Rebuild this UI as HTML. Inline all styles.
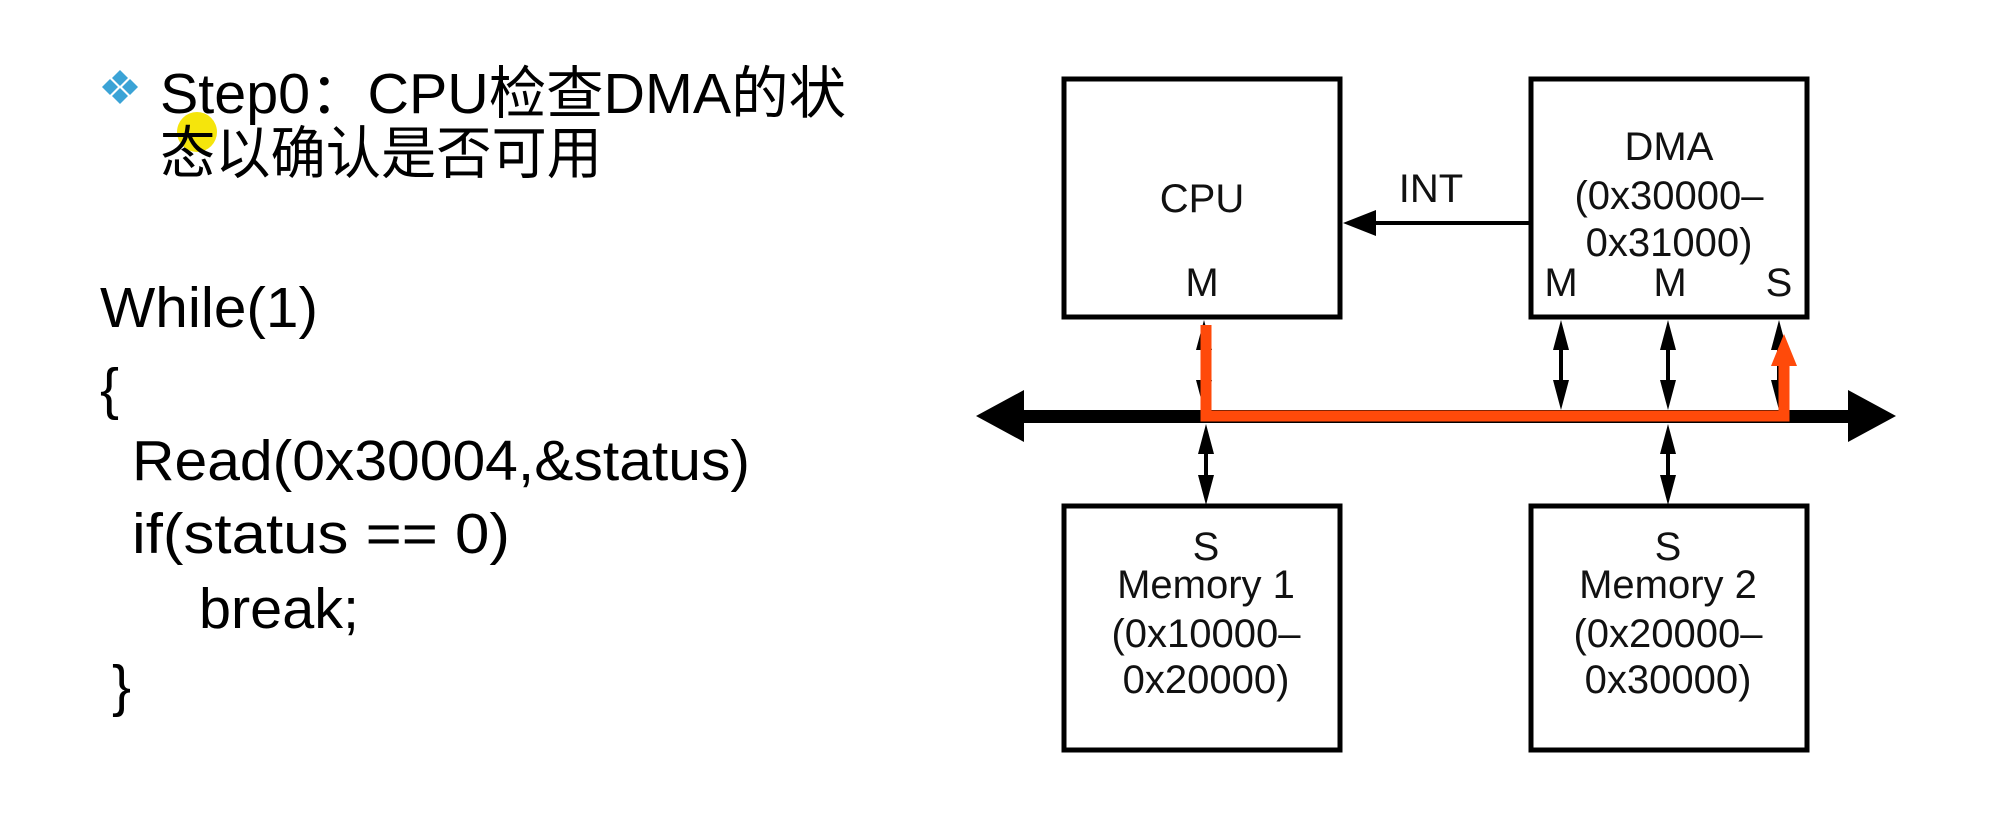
<!DOCTYPE html>
<html><head><meta charset="utf-8"><style>
html,body{margin:0;padding:0;background:#fff;}
svg{display:block;}
</style></head><body>
<svg width="1999" height="818" viewBox="0 0 1999 818" xmlns="http://www.w3.org/2000/svg">
<!-- bullet -->
<g fill="#3ba3d6">
<polygon points="120,70 128,78 120,86 112,78"/>
<polygon points="120,88 128,96 120,104 112,96"/>
<polygon points="110,79 118,87 110,95 102,87"/>
<polygon points="130,79 138,87 130,95 122,87"/>
</g>
<circle cx="197" cy="132" r="20" fill="#f5e50c"/>
<g font-family="'Liberation Sans','Noto Sans CJK SC',sans-serif" font-size="57" fill="#000">
<text x="160" y="113" textLength="686" lengthAdjust="spacingAndGlyphs">Step0：CPU检查DMA的状</text>
<text x="160" y="173" textLength="442" lengthAdjust="spacingAndGlyphs">态以确认是否可用</text>
<text x="100" y="327" textLength="218" lengthAdjust="spacingAndGlyphs">While(1)</text>
<text x="100" y="408">{</text>
<text x="132" y="480" textLength="618" lengthAdjust="spacingAndGlyphs">Read(0x30004,&amp;status)</text>
<text x="132" y="553" textLength="378" lengthAdjust="spacingAndGlyphs">if(status == 0)</text>
<text x="199" y="628" textLength="160" lengthAdjust="spacingAndGlyphs">break;</text>
<text x="112" y="705">}</text>
</g>
<!-- boxes -->
<g fill="none" stroke="#000" stroke-width="5">
<rect x="1064" y="79" width="276" height="238"/>
<rect x="1531" y="79" width="276" height="238"/>
<rect x="1064" y="506" width="276" height="244"/>
<rect x="1531" y="506" width="276" height="244"/>
</g>
<!-- bus -->
<rect x="1020" y="410" width="832" height="13" fill="#000"/>
<polygon points="976,416 1024,390 1024,442" fill="#000"/>
<polygon points="1896,416 1848,390 1848,442" fill="#000"/>
<!-- INT arrow -->
<line x1="1531" y1="223" x2="1370" y2="223" stroke="#000" stroke-width="4"/>
<polygon points="1343,223 1376,210 1376,236" fill="#000"/>
<!-- double arrows -->
<g stroke="#000" stroke-width="4" fill="#000">
<line x1="1204" y1="340" x2="1204" y2="390"/>
<polygon points="1204,320 1196,350 1212,350" stroke="none"/>
<polygon points="1204,410 1196,380 1212,380" stroke="none"/>
<line x1="1561" y1="340" x2="1561" y2="390"/>
<polygon points="1561,320 1553,350 1569,350" stroke="none"/>
<polygon points="1561,410 1553,380 1569,380" stroke="none"/>
<line x1="1668" y1="340" x2="1668" y2="390"/>
<polygon points="1668,320 1660,350 1676,350" stroke="none"/>
<polygon points="1668,410 1660,380 1676,380" stroke="none"/>
<line x1="1779" y1="340" x2="1779" y2="390"/>
<polygon points="1779,320 1771,350 1787,350" stroke="none"/>
<polygon points="1779,410 1771,380 1787,380" stroke="none"/>
<line x1="1206" y1="445" x2="1206" y2="485"/>
<polygon points="1206,424 1198,454 1214,454" stroke="none"/>
<polygon points="1206,505 1198,475 1214,475" stroke="none"/>
<line x1="1668" y1="445" x2="1668" y2="485"/>
<polygon points="1668,424 1660,454 1676,454" stroke="none"/>
<polygon points="1668,505 1660,475 1676,475" stroke="none"/>
</g>
<!-- orange path -->
<polyline points="1206,325 1206,416 1784,416 1784,362" fill="none" stroke="#ff4a0a" stroke-width="11" stroke-linejoin="miter"/>
<polygon points="1784,334 1771,366 1797,366" fill="#ff4a0a"/>
<!-- diagram text -->
<g font-family="'Liberation Sans',sans-serif" font-size="40" fill="#111" text-anchor="middle">
<text x="1202" y="212">CPU</text>
<text x="1202" y="296">M</text>
<text x="1431" y="202">INT</text>
<text x="1669" y="160">DMA</text>
<text x="1669" y="209">(0x30000–</text>
<text x="1669" y="256">0x31000)</text>
<text x="1561" y="296">M</text>
<text x="1670" y="296">M</text>
<text x="1779" y="296">S</text>
<text x="1206" y="560">S</text>
<text x="1206" y="598">Memory 1</text>
<text x="1206" y="647">(0x10000–</text>
<text x="1206" y="693">0x20000)</text>
<text x="1668" y="560">S</text>
<text x="1668" y="598">Memory 2</text>
<text x="1668" y="647">(0x20000–</text>
<text x="1668" y="693">0x30000)</text>
</g>
</svg>
</body></html>
